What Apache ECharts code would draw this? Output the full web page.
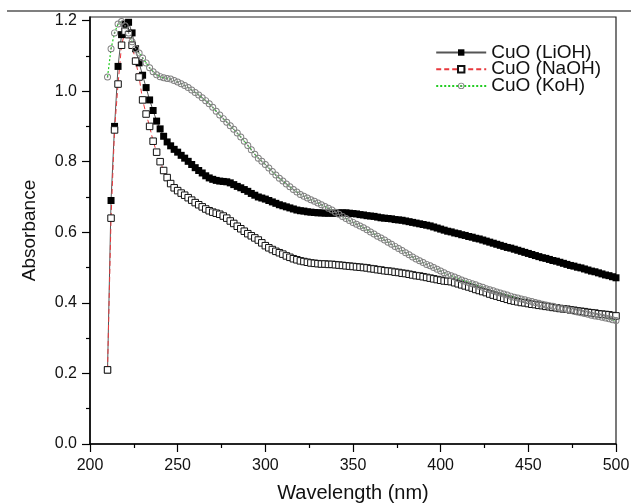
<!DOCTYPE html>
<html>
<head>
<meta charset="utf-8">
<script src="https://cdn.jsdelivr.net/npm/echarts@6/dist/echarts.min.js"></script>
<style>
  html, body { margin: 0; padding: 0; background: #fff; }
  #chart { width: 631px; height: 504px; }
</style>
</head>
<body>
<div id="chart"></div>
<script>
// wavelength (nm), one reading every 2 nm
var wavelength = [
  210, 212, 214, 216, 218, 220, 222, 224, 226, 228,
  230, 232, 234, 236, 238, 240, 242, 244, 246, 248,
  250, 252, 254, 256, 258, 260, 262, 264, 266, 268,
  270, 272, 274, 276, 278, 280, 282, 284, 286, 288,
  290, 292, 294, 296, 298, 300, 302, 304, 306, 308,
  310, 312, 314, 316, 318, 320, 322, 324, 326, 328,
  330, 332, 334, 336, 338, 340, 342, 344, 346, 348,
  350, 352, 354, 356, 358, 360, 362, 364, 366, 368,
  370, 372, 374, 376, 378, 380, 382, 384, 386, 388,
  390, 392, 394, 396, 398, 400, 402, 404, 406, 408,
  410, 412, 414, 416, 418, 420, 422, 424, 426, 428,
  430, 432, 434, 436, 438, 440, 442, 444, 446, 448,
  450, 452, 454, 456, 458, 460, 462, 464, 466, 468,
  470, 472, 474, 476, 478, 480, 482, 484, 486, 488,
  490, 492, 494, 496, 498, 500
];

var liohAbs = [
  0.21, 0.69, 0.90, 1.07, 1.16, 1.19, 1.195, 1.165, 1.12, 1.08,
  1.045, 1.01, 0.975, 0.945, 0.915, 0.893, 0.872, 0.856, 0.845, 0.835,
  0.827, 0.818, 0.81, 0.801, 0.792, 0.783, 0.775, 0.768, 0.76, 0.754,
  0.75, 0.747, 0.745, 0.744, 0.743, 0.74, 0.735, 0.73, 0.726, 0.721,
  0.716, 0.71, 0.705, 0.70, 0.697, 0.694, 0.69, 0.686, 0.682, 0.678,
  0.675, 0.672, 0.669, 0.666, 0.663, 0.661, 0.66, 0.658, 0.657, 0.656,
  0.655, 0.655, 0.654, 0.654, 0.654, 0.654, 0.655, 0.655, 0.655, 0.654,
  0.653, 0.652, 0.65, 0.649, 0.647, 0.646, 0.645, 0.643, 0.641, 0.64,
  0.639, 0.638, 0.636, 0.635, 0.634, 0.632, 0.63, 0.628, 0.626, 0.624,
  0.622, 0.62, 0.618, 0.615, 0.612, 0.609, 0.606, 0.603, 0.601, 0.598,
  0.596, 0.593, 0.591, 0.588, 0.586, 0.583, 0.581, 0.578, 0.575, 0.572,
  0.569, 0.566, 0.563, 0.56, 0.557, 0.555, 0.552, 0.549, 0.546, 0.543,
  0.54, 0.537, 0.534, 0.531, 0.528, 0.526, 0.523, 0.52, 0.518, 0.515,
  0.512, 0.509, 0.506, 0.504, 0.501, 0.499, 0.496, 0.493, 0.49, 0.488,
  0.485, 0.482, 0.479, 0.477, 0.474, 0.471
];

var naohAbs = [
  0.21, 0.64, 0.89, 1.02, 1.13, 1.17, 1.16, 1.13, 1.085, 1.04,
  0.975, 0.935, 0.90, 0.858, 0.827, 0.80, 0.775, 0.755, 0.738, 0.726,
  0.718, 0.711, 0.705, 0.698, 0.691, 0.684, 0.678, 0.672, 0.666, 0.661,
  0.657, 0.654, 0.651, 0.646, 0.64, 0.632, 0.625, 0.617, 0.61, 0.603,
  0.596, 0.59, 0.584, 0.578, 0.57, 0.562, 0.556, 0.551, 0.546, 0.542,
  0.538, 0.533, 0.529, 0.525, 0.522, 0.519, 0.517, 0.515, 0.513, 0.512,
  0.511, 0.51, 0.51, 0.509, 0.509, 0.508, 0.507, 0.506, 0.505, 0.504,
  0.503, 0.502, 0.501, 0.50, 0.499, 0.497, 0.496, 0.494, 0.493, 0.491,
  0.49, 0.489, 0.487, 0.486, 0.484, 0.483, 0.481, 0.479, 0.477, 0.476,
  0.474, 0.472, 0.47, 0.468, 0.466, 0.464, 0.462, 0.461, 0.46, 0.457,
  0.454, 0.451, 0.448, 0.445, 0.442, 0.438, 0.435, 0.432, 0.429, 0.425,
  0.422, 0.419, 0.416, 0.413, 0.41, 0.407, 0.405, 0.403, 0.401, 0.40,
  0.398, 0.396, 0.395, 0.393, 0.392, 0.39, 0.389, 0.387, 0.386, 0.384,
  0.383, 0.382, 0.38, 0.379, 0.377, 0.376, 0.375, 0.373, 0.372, 0.371,
  0.369, 0.368, 0.367, 0.366, 0.364, 0.363
];

var kohAbs = [
  1.04, 1.12, 1.165, 1.19, 1.197, 1.185, 1.165, 1.14, 1.12, 1.108,
  1.094, 1.08, 1.066, 1.055, 1.046, 1.041, 1.038, 1.036, 1.034, 1.03,
  1.026, 1.021, 1.016, 1.01, 1.003, 0.996, 0.989, 0.981, 0.973, 0.964,
  0.954, 0.943, 0.932, 0.922, 0.912, 0.902, 0.892, 0.881, 0.87, 0.858,
  0.846, 0.834, 0.821, 0.81, 0.801, 0.792, 0.782, 0.772, 0.762, 0.753,
  0.745, 0.737, 0.729, 0.721, 0.714, 0.707, 0.702, 0.697, 0.692, 0.688,
  0.683, 0.678, 0.673, 0.668, 0.663, 0.657, 0.651, 0.645, 0.639, 0.633,
  0.628, 0.623, 0.618, 0.613, 0.607, 0.601, 0.595, 0.589, 0.584, 0.578,
  0.572, 0.566, 0.56, 0.554, 0.548, 0.542, 0.536, 0.53, 0.524, 0.519,
  0.514, 0.509, 0.505, 0.50, 0.495, 0.49, 0.485, 0.48, 0.477, 0.473,
  0.469, 0.465, 0.461, 0.458, 0.454, 0.451, 0.447, 0.444, 0.44, 0.437,
  0.434, 0.431, 0.428, 0.425, 0.422, 0.419, 0.416, 0.414, 0.411, 0.409,
  0.406, 0.404, 0.401, 0.399, 0.396, 0.394, 0.392, 0.39, 0.387, 0.385,
  0.383, 0.381, 0.379, 0.376, 0.374, 0.372, 0.37, 0.368, 0.365, 0.363,
  0.361, 0.359, 0.357, 0.355, 0.352, 0.35
];

var seriesNames = ['CuO (LiOH)', 'CuO (NaOH)', 'CuO (KoH)'];
var yMajorTicks = [0, 0.2, 0.4, 0.6, 0.8, 1.0, 1.2];
var yMinorTicks = [0.1, 0.3, 0.5, 0.7, 0.9, 1.1];

function pairs(values) {
  return wavelength.map(function (w, i) { return [w, values[i]]; });
}

// ring with a dot in the middle, like the KoH markers
var targetSymbol = 'path://M0,5A5,5 0 1,1 10,5A5,5 0 1,1 0,5Z' +
  'M1.4,5A3.6,3.6 0 1,0 8.6,5A3.6,3.6 0 1,0 1.4,5Z' +
  'M3.8,5A1.2,1.2 0 1,1 6.2,5A1.2,1.2 0 1,1 3.8,5Z';

var font = 'Liberation Sans, Arial, sans-serif';

var chart = echarts.init(document.getElementById('chart'));

var option = {
  backgroundColor: '#fff',
  animation: false,
  grid: {
    left: 90, right: 15, top: 17, bottom: 60,
    outerBoundsMode: 'none',
    show: true, borderColor: '#222', borderWidth: 1.2
  },
  graphic: [{
    type: 'line',
    shape: { x1: 7, y1: 11, x2: 631, y2: 11 },
    style: { stroke: '#555', lineWidth: 1.5 }
  }],
  legend: {
    orient: 'vertical',
    right: 30, top: 43, padding: 0,
    itemWidth: 50, itemHeight: 8, itemGap: -2.3,
    textStyle: { fontFamily: font, fontSize: 19, color: '#111' },
    data: seriesNames
  },
  xAxis: {
    type: 'value',
    min: 200, max: 500, interval: 50,
    name: 'Wavelength (nm)',
    nameLocation: 'middle', nameGap: 39,
    nameTextStyle: { fontFamily: font, fontSize: 20, color: '#111' },
    axisLine: { lineStyle: { color: '#000', width: 1.5 } },
    axisTick: { length: 8, lineStyle: { color: '#000', width: 1.2 } },
    minorTick: { show: true, splitNumber: 2, length: 4, lineStyle: { color: '#000', width: 1.2 } },
    axisLabel: { fontFamily: font, fontSize: 16, color: '#111', margin: 14 },
    splitLine: { show: false }
  },
  yAxis: [{
    type: 'value',
    min: 0, max: 1.21,
    name: 'Absorbance',
    nameLocation: 'middle', nameGap: 51,
    nameTextStyle: { fontFamily: font, fontSize: 19, color: '#111' },
    axisLine: { show: true, lineStyle: { color: '#000', width: 1.5 } },
    axisTick: { show: true, length: 8, customValues: yMajorTicks, lineStyle: { color: '#000', width: 1.2 } },
    axisLabel: {
      fontFamily: font, fontSize: 16, color: '#111', margin: 13,
      customValues: yMajorTicks,
      formatter: function (v) { return v.toFixed(1); }
    },
    splitLine: { show: false }
  }, {
    type: 'value',
    min: 0, max: 1.21,
    position: 'left',
    axisLine: { show: false },
    axisTick: { show: true, length: 4, customValues: yMinorTicks, lineStyle: { color: '#000', width: 1.2 } },
    axisLabel: { show: false },
    splitLine: { show: false }
  }],
  series: [{
    name: seriesNames[0],
    type: 'line',
    data: pairs(liohAbs),
    symbol: 'rect', symbolSize: 7,
    itemStyle: { color: '#000', borderWidth: 0 },
    lineStyle: { color: '#555', width: 1 },
    clip: false
  }, {
    name: seriesNames[1],
    type: 'line',
    data: pairs(naohAbs),
    symbol: 'rect', symbolSize: 6.5,
    itemStyle: { color: '#fff', borderColor: '#111', borderWidth: 1 },
    lineStyle: { color: '#e8383d', width: 1, type: [5, 3] },
    clip: false
  }, {
    name: seriesNames[2],
    type: 'line',
    data: pairs(kohAbs),
    symbol: targetSymbol, symbolSize: 7, symbolKeepAspect: true,
    itemStyle: { color: '#808080' },
    lineStyle: { color: '#22cc22', width: 1.2, type: [2, 2] },
    clip: false
  }]
};

chart.setOption(option);
</script>
</body>
</html>
